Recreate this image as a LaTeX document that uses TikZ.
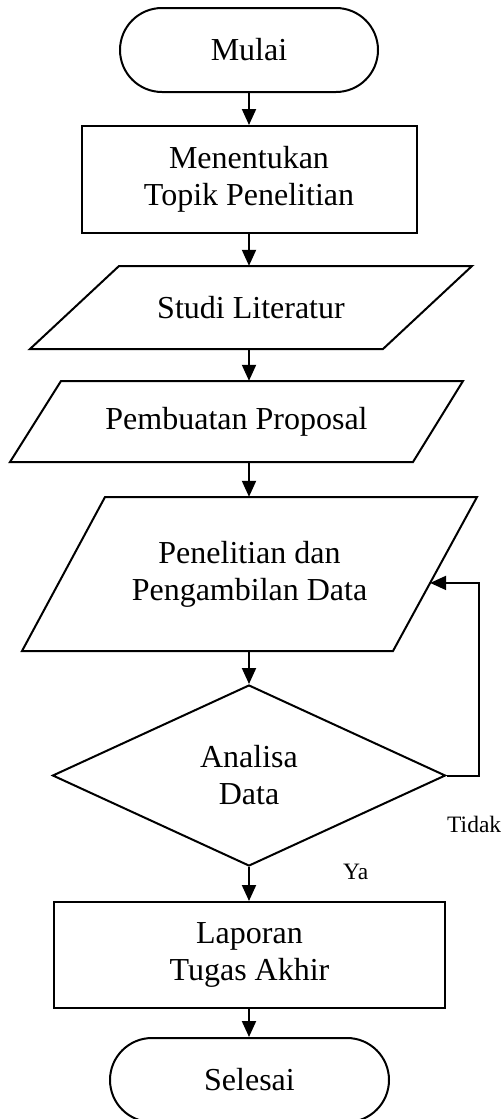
\documentclass[tikz,border=0pt]{standalone}
\usepackage{fontspec}
\setmainfont{Liberation Serif}
\usetikzlibrary{shapes.geometric,shapes.misc,arrows.meta,calc}

\begin{document}
\begin{tikzpicture}[x=1pt,y=-1pt,
  every node/.style={font=\fontsize{32}{37}\selectfont, align=center},
  shape line/.style={draw, line width=2pt, inner sep=0pt},
  terminal/.style={shape line, rounded rectangle, minimum width=#1, minimum height=84pt},
  process/.style 2 args={shape line, rectangle, minimum width=#1, minimum height=#2},
  iotext/.style={inner sep=0pt, minimum height=#1},
  outline/.style={line width=2pt, line join=miter},
  decision/.style 2 args={shape line, diamond, aspect=2.17, minimum width=#1, minimum height=#2},
  arr/.style={line width=2pt, -{Triangle[length=16pt,width=14pt]}},
  small/.style={font=\fontsize{23.5}{27}\selectfont, anchor=base west, inner sep=0pt}
]
\useasboundingbox (0,0) rectangle (502,1119);

\coordinate (axis) at (249,0);

% flow steps
\node[terminal=258pt] (mulai) at (249,50) {Mulai};
\node[process={335pt}{107pt}] (topik) at (249,179.5) {Menentukan\\Topik Penelitian};

% input/output steps: slanted outlines drawn corner by corner
\node[iotext=83pt] (studi) at (251,307.5) {Studi Literatur};
\draw[outline] (119,266) -- (472,266) -- (383,349) -- (30,349) -- cycle;

\node[iotext=81pt] (proposal) at (236.5,421.5) {Pembuatan Proposal};
\draw[outline] (61,381) -- (463,381) -- (413,462) -- (10,462) -- cycle;

\node[iotext=154pt] (data) at (249.5,574) {Penelitian dan\\Pengambilan Data};
\coordinate (data tr) at (477,497);
\coordinate (data br) at (393,651);
\draw[outline] (105,497) -- (data tr) -- (data br) -- (22,651) -- cycle;

\node[decision={393pt}{181pt}] (analisa) at (249,775.5) {Analisa\\Data};
\node[process={391pt}{106pt}] (laporan) at (249.5,955) {Laporan\\Tugas Akhir};
\node[terminal=279pt] (selesai) at (249.5,1080) {Selesai};

% decision labels
\node[small] (tidak) at (447,832) {Tidak};
\node[small] (ya) at (343,879) {Ya};

% connectors
\draw[arr] (mulai.south -| axis) -- (topik.north -| axis);
\draw[arr] (topik.south -| axis) -- (studi.north -| axis);
\draw[arr] (studi.south -| axis) -- (proposal.north -| axis);
\draw[arr] (proposal.south -| axis) -- (data.north -| axis);
\draw[arr] (data.south -| axis) -- (analisa.north);
\draw[arr] (analisa.south) -- (laporan.north -| axis);
\draw[arr] (laporan.south -| axis) -- (selesai.north -| axis);

% loop back from the decision
\coordinate (back) at ($(data tr)!0.558!(data br)$);
\draw[arr] (analisa.east) -- ++(32,0) |- (back);
\end{tikzpicture}
\end{document}
